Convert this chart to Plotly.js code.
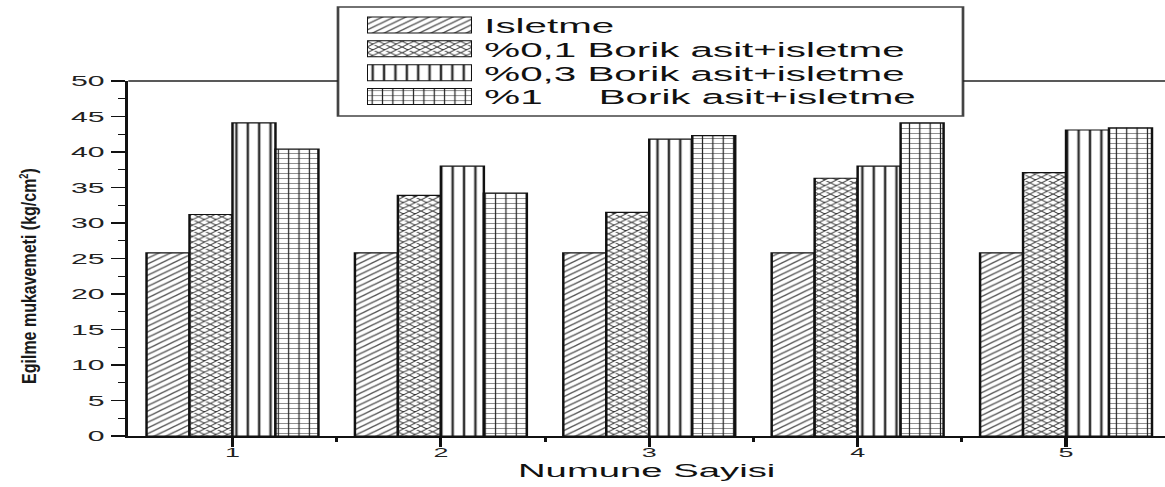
<!DOCTYPE html>
<html>
<head>
<meta charset="utf-8">
<script src="https://cdn.plot.ly/plotly-3.0.1.min.js"></script>
<style>
  html, body { margin: 0; padding: 0; background: #fff; overflow: hidden; }
  body { width: 1165px; height: 487px; position: relative; }
  #wrap { position: absolute; left: 0; top: 0; transform-origin: 0 0; }
  #ytitle {
    position: absolute; left: 29px; top: 276px;
    transform: translate(-50%, -50%) rotate(-90deg) scaleX(0.78);
    white-space: nowrap; font-family: "Liberation Sans", Arial, sans-serif;
    font-size: 20.5px; font-weight: bold; color: #1a1a1a;
  }
  #ytitle sup { font-size: 12px; }
</style>
</head>
<body>
<div id="wrap"><div id="chart"></div></div>
<div id="ytitle">Egilme mukavemeti (kg/cm<sup>2</sup>)</div>
<script>
// Sample numbers on the x axis
const samples = [1, 2, 3, 4, 5];
const sampleLabels = ['1', '2', '3', '4', '5'];

// Series names (legend rows)
const seriesNames = [
  'Isletme',
  '%0,1 Borik asit+isletme',
  '%0,3 Borik asit+isletme',
  '%1\u00a0\u00a0\u00a0\u00a0\u00a0Borik asit+isletme'
];

// Bending strength values, kg/cm2
const isletme   = [25.8, 25.8, 25.8, 25.8, 25.8];
const borik01   = [31.2, 33.9, 31.5, 36.3, 37.1];
const borik03   = [44.1, 38.0, 41.8, 38.0, 43.1];
const borik1    = [40.4, 34.2, 42.3, 44.1, 43.4];

const seriesValues = [isletme, borik01, borik03, borik1];

// Fill patterns for each series
const patterns = [
  { shape: '/', size: 4,   solidity: 0.28, fgcolor: '#555', bgcolor: '#fff' },
  { shape: 'x', size: 4,   solidity: 0.35, fgcolor: '#333', bgcolor: '#fff' },
  { shape: '|', size: 5.5, solidity: 0.22, fgcolor: '#333', bgcolor: '#fff' },
  { shape: '+', size: 5,   solidity: 0.22, fgcolor: '#222', bgcolor: '#fff' }
];

// The whole figure is laid out narrow and widened horizontally
const S = 2.0693;
const W = 563, H = 487;
const ML = 62, MR = 0, MT = 0, MB = 51;
const plotW = W - ML - MR, plotH = H - MT - MB;
document.getElementById('wrap').style.transform = 'scaleX(' + S + ')';

// page pixel -> paper fraction
const px = x => (x / S - ML) / plotW;
const py = y => (plotH + MT - y) / plotH;

const font = '"Liberation Sans", Arial, sans-serif';
const plotTop = py(81);
const legL = px(338), legR = px(963), legT = py(7), legB = py(116);

const traces = [];
seriesValues.forEach((vals, i) => {
  traces.push({
    type: 'bar',
    x: samples,
    y: vals,
    name: seriesNames[i],
    marker: { color: '#fff', pattern: patterns[i], line: { color: '#111', width: 1.2 } },
    showlegend: false,
    hoverinfo: 'skip'
  });
});

// Legend swatches: one short horizontal bar per series in its own small axes
seriesNames.forEach((n, i) => {
  traces.push({
    type: 'bar',
    orientation: 'h',
    x: [1],
    y: [i],
    base: 0,
    width: 0.67,
    offset: -0.335,
    xaxis: 'x2',
    yaxis: 'y2',
    marker: { color: '#fff', pattern: patterns[i], line: { color: '#111', width: 1.0 } },
    showlegend: false,
    hoverinfo: 'skip'
  });
});

const annotations = seriesNames.map((n, i) => ({
  xref: 'x2', yref: 'y2', x: 1, y: i,
  xanchor: 'left', yanchor: 'middle', xshift: 4, yshift: -1,
  text: n, showarrow: false,
  font: { family: font, size: 19.5, color: '#111' }
}));

const layout = {
  width: W, height: H,
  margin: { l: ML, r: MR, t: MT, b: MB, pad: 0 },
  paper_bgcolor: '#fff', plot_bgcolor: '#fff',
  barmode: 'group', bargap: 0.175, bargroupgap: 0,
  showlegend: false,
  font: { family: font, color: '#222' },
  xaxis: {
    domain: [0, 1],
    range: [0.5, 5.475],
    tickmode: 'array', tickvals: samples, ticktext: sampleLabels,
    ticks: 'outside', ticklen: 9, tickwidth: 1.5, tickcolor: '#111',
    ticklabelstandoff: -6,
    minor: { tickmode: 'array', tickvals: [1.5, 2.5, 3.5, 4.5], ticks: 'outside', ticklen: 4, tickwidth: 1.5, tickcolor: '#111' },
    showline: true, linewidth: 2, linecolor: '#111',
    showgrid: false, zeroline: false,
    tickfont: { family: font, size: 13, color: '#222' },
    title: { text: 'Numune Sayisi', font: { family: font, size: 18.5, color: '#111' }, standoff: 0 },
    fixedrange: true
  },
  yaxis: {
    domain: [0, plotTop],
    range: [0, 50],
    dtick: 5, tick0: 0,
    ticks: 'outside', ticklen: 7, tickwidth: 1.5, tickcolor: '#111',
    minor: { dtick: 2.5, ticks: 'outside', ticklen: 3.5, tickwidth: 1.2, tickcolor: '#111' },
    showline: true, linewidth: 1.5, linecolor: '#111',
    showgrid: false, zeroline: false,
    tickfont: { family: font, size: 14.6, color: '#222' },
    fixedrange: true
  },
  xaxis2: {
    domain: [px(367), px(472)], range: [0, 1], anchor: 'y2',
    visible: false, fixedrange: true
  },
  yaxis2: {
    domain: [py(108.4), py(13.1)], range: [3.5, -0.5], anchor: 'x2',
    visible: false, fixedrange: true
  },
  annotations: annotations,
  shapes: [
    // legend frame
    { type: 'rect', xref: 'paper', yref: 'paper', x0: legL, x1: legR, y0: legB, y1: legT,
      fillcolor: '#fff', line: { color: '#444', width: 1.3 }, layer: 'below' },
    // top frame of the plot, interrupted by the legend
    { type: 'line', xref: 'paper', yref: 'paper', x0: 0, x1: legL, y0: plotTop, y1: plotTop,
      line: { color: '#222', width: 1.5 } },
    { type: 'line', xref: 'paper', yref: 'paper', x0: legR, x1: 1, y0: plotTop, y1: plotTop,
      line: { color: '#222', width: 1.5 } }
  ]
};

Plotly.newPlot('chart', traces, layout, { staticPlot: true, displayModeBar: false });
</script>
</body>
</html>
